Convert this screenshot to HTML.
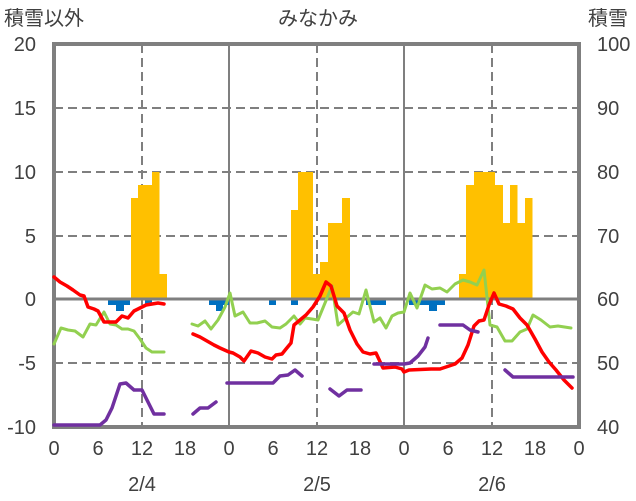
<!DOCTYPE html>
<html><head><meta charset="utf-8"><style>
html,body{margin:0;padding:0;background:#fff;}
svg{display:block;}
text{font-family:"Liberation Sans","Noto Sans CJK JP",sans-serif;fill:#404040;font-size:20px;}
</style></head><body>
<svg width="636" height="501" viewBox="0 0 636 501">
<rect width="636" height="501" fill="#fff"/>
<!-- grid -->
<g stroke="#7f7f7f" stroke-width="2" stroke-dasharray="9,5">
<line x1="54" y1="108" x2="579" y2="108"/><line x1="54" y1="172" x2="579" y2="172"/>
<line x1="54" y1="236" x2="579" y2="236"/><line x1="54" y1="363" x2="579" y2="363"/>
<line x1="142" y1="44" x2="142" y2="427"/><line x1="317" y1="44" x2="317" y2="427"/><line x1="492" y1="44" x2="492" y2="427"/>
</g>
<g stroke="#7f7f7f" stroke-width="2">
<line x1="229" y1="44" x2="229" y2="427"/><line x1="404" y1="44" x2="404" y2="427"/>
</g>
<!-- snow bars -->
<g fill="#ffc000">
<rect x="131" y="198" width="7.5" height="101"/><rect x="138" y="185" width="14.5" height="114"/><rect x="152" y="172" width="7.5" height="127"/><rect x="159" y="274" width="8" height="25"/>
<rect x="291" y="210" width="7.5" height="89"/><rect x="298" y="172" width="15" height="127"/><rect x="313" y="274" width="7.5" height="25"/><rect x="320" y="262" width="8" height="37"/><rect x="328" y="223" width="14.5" height="76"/><rect x="342" y="198" width="8" height="101"/>
<rect x="459" y="274" width="7.5" height="25"/><rect x="466" y="185" width="8" height="114"/><rect x="474" y="172" width="21" height="127"/><rect x="495" y="185" width="8" height="114"/><rect x="503" y="223" width="7.5" height="76"/><rect x="510" y="185" width="7.5" height="114"/><rect x="517" y="223" width="8" height="76"/><rect x="525" y="198" width="7.5" height="101"/>
</g>
<g fill="#0070c0">
<rect x="108" y="299" width="22" height="6"/><rect x="116" y="299" width="8" height="12"/><rect x="145" y="299" width="7" height="5"/>
<rect x="209" y="299" width="20" height="6"/><rect x="216" y="299" width="7" height="12"/><rect x="269" y="299" width="7" height="6"/><rect x="291" y="299" width="7" height="6"/><rect x="366" y="299" width="20" height="6"/>
<rect x="409" y="299" width="36" height="6"/><rect x="429" y="299" width="8" height="12"/>
</g>
<line x1="54" y1="299" x2="579" y2="299" stroke="#7f7f7f" stroke-width="3"/>
<!-- frame -->
<rect x="54" y="44" width="525" height="383" fill="none" stroke="#7f7f7f" stroke-width="4"/>
<!-- lines -->
<g fill="none" stroke-width="3.5" stroke-linejoin="round" stroke-linecap="round">
<g stroke="#92d050" stroke-width="3">
<polyline points="54,344 61,328 68,330 75,331 83,337 90,324 96,325 104,312 110,324 116,325 122,329 128,329 134,331 140,339 146,348 152,352 164,352"/>
<polyline points="192,324 198,326 205,321 211,329 218,320 225,307 230,293 235,316 243,312 250,323 257,323 265,321 272,327 280,328 286,324 294,316 300,324 305,318 312,319 318,320 332,286 338,325 346,318 353,312 359,314 366,290 374,322 380,318 386,328 392,316 398,313 404,312 410,293 417,308 425,285 432,289 440,288 447,292 455,284 463,280 470,282 477,285 484,270 490,325 497,327 505,341 512,341 520,332 527,329 533,315 541,320 550,327 558,326 571,328"/>
</g>
<g stroke="#ff0000">
<polyline points="54,277 60,282 67,286 73,290 80,295 84,296 88,307 94,309 98,311 104,322 110,322 116,322 122,316 128,318 134,311 140,308 146,305 152,304 158,303 164,304"/>
<polyline points="193,334 200,337 207,341 214,345 220,348 229,352 233,353 240,357 244,361 251,351 258,353 265,357 272,359 276,355 282,354 286,349 291,343 294,325 300,320 306,315 313,307 320,296 326,282 331,286 337,306 344,313 350,330 357,344 363,352 370,354 376,353 383,368 395,367 402,369 404,372 409,370 431,369 440,369 455,364 462,358 468,345 474,326 479,321 484,320 489,305 494,293 499,304 506,306 513,309 520,318 527,325 535,339 542,352 549,362 556,370 564,380 572,388"/>
</g>
<g stroke="#7030a0">
<polyline points="54,425 100,425 106,420 112,408 120,384 126,383 134,390 142,390 148,402 154,414 164,414"/>
<polyline points="193,414 200,408 208,408 216,402"/>
<polyline points="227,383 273,383 280,376 288,375 295,370 302,376"/>
<polyline points="330,389 339,396 347,390 361,390"/>
<polyline points="374,364 404,364 410,363 418,356 425,347 428,338"/>
<polyline points="440,325 463,325 470,330 478,332"/>
<polyline points="505,370 513,377 573,377"/>
</g>
</g>
<!-- left ticks -->
<g text-anchor="end">
<text x="36" y="51">20</text><text x="36" y="115">15</text><text x="36" y="179">10</text><text x="36" y="243">5</text><text x="36" y="306">0</text><text x="36" y="370">-5</text><text x="36" y="434">-10</text>
</g>
<g text-anchor="start">
<text x="597" y="51">100</text><text x="597" y="115">90</text><text x="597" y="179">80</text><text x="597" y="243">70</text><text x="597" y="306">60</text><text x="597" y="370">50</text><text x="597" y="434">40</text>
</g>
<g text-anchor="middle">
<text x="54" y="455">0</text><text x="98" y="455">6</text><text x="142" y="455">12</text><text x="185" y="455">18</text>
<text x="229" y="455">0</text><text x="273" y="455">6</text><text x="317" y="455">12</text><text x="360" y="455">18</text>
<text x="404" y="455">0</text><text x="448" y="455">6</text><text x="492" y="455">12</text><text x="535" y="455">18</text><text x="579" y="455">0</text>
<text x="142" y="491">2/4</text><text x="317" y="491">2/5</text><text x="492" y="491">2/6</text>
<text x="318" y="25">みなかみ</text>
</g>
<text x="4" y="25">積雪以外</text>
<text x="588" y="25">積雪</text>
</svg>
</body></html>
